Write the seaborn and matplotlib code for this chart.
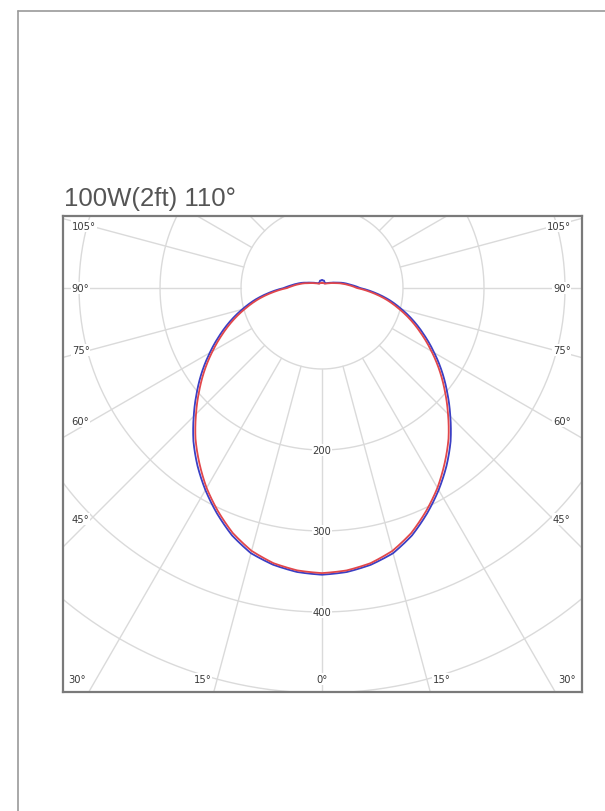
import numpy as np
import pandas as pd
import matplotlib
matplotlib.use("Agg")
import matplotlib.pyplot as plt
from matplotlib.lines import Line2D
import seaborn as sns

# Luminous intensity distribution (cd), gamma measured from nadir
gamma = [0, 5, 10, 15, 20, 25, 30, 35, 40, 45, 50, 55, 60, 65, 70, 75, 80, 85, 90,
         95, 100, 110, 120, 130, 140, 150, 155, 165, 175, 180]
c0_c180 = [354, 352, 347, 339, 325, 307, 288, 268, 247, 224, 202, 181, 160, 140, 121, 102, 84, 65, 47,
           38, 31, 19, 13, 9.5, 7.6, 6.6, 7.5, 9.5, 9.5, 9.5]
c90_c270 = [352, 350, 345, 336, 322, 304, 285, 264, 243, 220, 198, 177, 156, 136, 117, 98, 80, 61, 43,
            35, 28, 17, 12, 8.8, 7.2, 6.2, 6.2, 6.5, 6.5, 6.5]

title = "100W(2ft) 110°"
ring_values = [100, 200, 300, 400, 500, 600]
ring_labels = [200, 300, 400]
spoke_angles = list(range(0, 181, 15))
side_labels = [45, 60, 75, 90, 105]
bottom_labels = [30, 15, 0, 15, 30]
bottom_sides = [-1, -1, 0, 1, 1]

sns.set_style("white")
plt.rcParams["font.family"] = ["DejaVu Sans"]

fig = plt.figure(figsize=(6.05, 8.12), dpi=100)
fig.patch.set_facecolor("white")

# page frame (left and top edges)
fig.add_artist(Line2D([18 / 605, 18 / 605], [0, 1 - 12 / 812], color="#9a9a9a", lw=1.2))
fig.add_artist(Line2D([18 / 605, 1], [1 - 12 / 812, 1 - 12 / 812], color="#9a9a9a", lw=1.2))

fig.text(64 / 605, 1 - 199 / 812, title, fontsize=18.5, color="#555555",
         family=["Liberation Sans", "DejaVu Sans"], ha="left", va="center")

ax = fig.add_axes([63 / 605, 1 - 693 / 812, 519 / 605, 476 / 812])
ax.set_xlim(-319.8, 321.0)
ax.set_ylim(-498.8, 88.9)
ax.set_xticks([])
ax.set_yticks([])
for sp in ax.spines.values():
    sp.set_color("#7a7a7a")
    sp.set_linewidth(1.6)

grid_kw = dict(color="#dadada", lw=1.0, zorder=1)

# concentric intensity rings
t = np.linspace(0, 2 * np.pi, 721)
for rv in ring_values:
    ax.plot(rv * np.sin(t), rv * np.cos(t), **grid_kw)

# radial spokes starting at the first ring
for a in spoke_angles:
    for s in ([1, -1] if a not in (0, 180) else [1]):
        th = np.radians(a) * s
        ax.plot([100 * np.sin(th), 800 * np.sin(th)],
                [-100 * np.cos(th), -800 * np.cos(th)], **grid_kw)

lab_kw = dict(fontsize=7.2, color="#3a3a3a", zorder=3,
              bbox=dict(facecolor="white", edgecolor="none", pad=0.6))

for rv in ring_labels:
    ax.text(0, -rv, str(rv), ha="center", va="center", **lab_kw)

for a in side_labels:
    y = -285 * np.cos(np.radians(a)) / np.sin(np.radians(a))
    ax.text(-309, y, f"{a}°", ha="left", va="center", **lab_kw)
    ax.text(307, y, f"{a}°", ha="right", va="center", **lab_kw)

for a, s in zip(bottom_labels, bottom_sides):
    x = s * (499 * np.tan(np.radians(a)) + 14)
    ax.text(x, -483, f"{a}°", ha="center", va="center", **lab_kw)


def plane_frame(vals, name):
    """Full -180..180 trace of one C-plane; each segment between samples is
    traced as a polar arc (linear in angle and radius), as on a polar axis."""
    g = np.array(gamma, dtype=float)
    r = np.array(vals, dtype=float)
    ang = np.concatenate([-g[::-1], g[1:]])
    rad = np.concatenate([r[::-1], r[1:]])
    fine = np.linspace(ang[0], ang[-1], 1441)
    rr = np.interp(fine, ang, rad)
    th = np.radians(fine)
    return pd.DataFrame({"x": rr * np.sin(th), "y": -rr * np.cos(th), "plane": name})


df = pd.concat([plane_frame(c90_c270, "C90-C270"), plane_frame(c0_c180, "C0-C180")],
               ignore_index=True)

sns.lineplot(data=df, x="x", y="y", hue="plane", units="plane", estimator=None,
             sort=False, palette={"C0-C180": "#3b3fc4", "C90-C270": "#e2474b"},
             hue_order=["C0-C180", "C90-C270"], linewidth=1.3, legend=False,
             ax=ax, zorder=4)
ax.set_xlabel("")
ax.set_ylabel("")

fig.savefig("out.png", dpi=100, facecolor="white")
